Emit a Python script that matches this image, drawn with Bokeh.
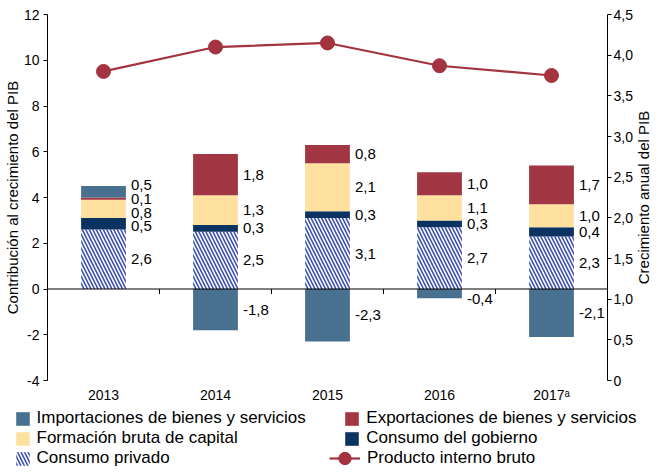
import numpy as np
from bokeh.plotting import figure
from bokeh.layouts import column, row
from bokeh.models import Range1d, LinearAxis, FixedTicker, Span, Legend, LegendItem
from bokeh.core.properties import value
from bokeh.embed import file_html
from bokeh.resources import INLINE

# ---- data ----
years = ["2013", "2014", "2015", "2016", "2017\u1d43"]
importaciones = [0.5, -1.8, -2.3, -0.4, -2.1]
exportaciones = [0.1, 1.8, 0.8, 1.0, 1.7]
formacion = [0.8, 1.3, 2.1, 1.1, 1.0]
gobierno = [0.5, 0.3, 0.3, 0.3, 0.4]
privado = [2.6, 2.5, 3.1, 2.7, 2.3]
pib = [3.8, 4.1, 4.15, 3.87, 3.75]

left_ticks = [-4, -2, 0, 2, 4, 6, 8, 10, 12]
left_tick_labels = ["-4", "-2", "0", "2", "4", "6", "8", "10", "12"]
right_ticks = [0, 0.5, 1.0, 1.5, 2.0, 2.5, 3.0, 3.5, 4.0, 4.5]
right_tick_labels = ["0", "0,5", "1,0", "1,5", "2,0", "2,5", "3,0", "3,5", "4,0", "4,5"]
left_title = "Contribución al crecimiento del PIB"
right_title = "Crecimiento anual del PIB"

FONT = "Liberation Sans"
C_IMP = "#47718f"
C_EXP = "#a23642"
C_FORM = "#fee19f"
C_GOB = "#0b3361"
C_HATCH = "#3b4fae"
C_PIB = "#a3333f"

n = len(years)
xc = np.arange(n) + 0.5
bw = 0.4

TOP_B = 14
BOT_B = 28
MAIN_H = TOP_B + 366 + BOT_B
TITLE_W = 15
LEG_H = 60

p = figure(width=650 - TITLE_W, height=MAIN_H, x_range=Range1d(0, n), y_range=Range1d(-4, 12),
           output_backend="svg", toolbar_location=None,
           min_border_left=44, min_border_right=24, min_border_top=TOP_B, min_border_bottom=BOT_B)
p.outline_line_color = None
p.xgrid.visible = False
p.ygrid.visible = False
p.background_fill_color = "white"
p.border_fill_color = "white"

# x axis (bottom): only labels
xa = p.xaxis[0]
xa.ticker = FixedTicker(ticks=list(xc))
xa.major_label_overrides = {float(x): y for x, y in zip(xc, years)}
xa.axis_line_color = None
xa.major_tick_line_color = None
xa.minor_tick_line_color = None
xa.major_label_standoff = 0
xa.major_label_text_font = FONT
xa.major_label_text_font_size = "14px"
xa.major_label_text_color = "black"

# left axis
ya = p.yaxis[0]
ya.ticker = FixedTicker(ticks=left_ticks)
ya.major_label_overrides = {t: l for t, l in zip(left_ticks, left_tick_labels)}
ya.minor_tick_line_color = None
ya.major_tick_in = 0
ya.major_tick_out = 4
ya.major_label_standoff = 4
ya.axis_line_color = "black"
ya.major_tick_line_color = "black"
ya.major_label_text_font = FONT
ya.major_label_text_font_size = "14px"
ya.major_label_text_color = "black"
ya.axis_label = left_title
ya.axis_label_text_font = FONT
ya.axis_label_text_font_size = "15px"
ya.axis_label_text_font_style = "normal"
ya.axis_label_text_color = "black"
ya.axis_label_standoff = 0

# right axis
p.extra_y_ranges = {"pib": Range1d(0, 4.5)}
ra = LinearAxis(y_range_name="pib")
ra.ticker = FixedTicker(ticks=right_ticks)
ra.major_label_overrides = {t: l for t, l in zip(right_ticks, right_tick_labels)}
ra.minor_tick_line_color = None
ra.major_tick_in = 0
ra.major_tick_out = 4
ra.major_label_standoff = 2
ra.axis_label_standoff = 0
ra.axis_line_color = "black"
ra.major_tick_line_color = "black"
ra.major_label_text_font = FONT
ra.major_label_text_font_size = "14px"
ra.major_label_text_color = "black"
p.add_layout(ra, "right")

# stacked bars
styles = {
    "Consumo privado": dict(fill_color="white", hatch_pattern="\\", hatch_color=C_HATCH,
                            hatch_weight=1.6, hatch_scale=7),
    "Consumo del gobierno": dict(fill_color=C_GOB),
    "Formación bruta de capital": dict(fill_color=C_FORM),
    "Exportaciones de bienes y servicios": dict(fill_color=C_EXP),
    "Importaciones de bienes y servicios": dict(fill_color=C_IMP),
}
series = [
    ("Consumo privado", privado),
    ("Consumo del gobierno", gobierno),
    ("Formación bruta de capital", formacion),
    ("Exportaciones de bienes y servicios", exportaciones),
    ("Importaciones de bienes y servicios", importaciones),
]

pos_base = np.zeros(n)
neg_base = np.zeros(n)
pos_labels = [[] for _ in range(n)]
neg_labels = [[] for _ in range(n)]
stacks = {}
for name, vals in series:
    vals = np.array(vals, dtype=float)
    bottom = np.where(vals >= 0, pos_base, neg_base + vals)
    top = np.where(vals >= 0, pos_base + vals, neg_base)
    stacks[name] = (bottom, top)
    p.vbar(x=xc, width=bw, bottom=bottom, top=top, line_color=None, **styles[name])
    for i, v in enumerate(vals):
        txt = f"{v:.1f}".replace(".", ",")
        mid = (bottom[i] + top[i]) / 2
        if v >= 0:
            pos_labels[i].append((mid, txt))
        else:
            neg_labels[i].append((mid, txt))
    pos_base = np.where(vals >= 0, pos_base + vals, pos_base)
    neg_base = np.where(vals < 0, neg_base + vals, neg_base)

GAP = 0.6


def spread(ys, gap):
    clusters = [[y] for y in ys]

    def place(c):
        m = sum(c) / len(c)
        return [m + gap * (k - (len(c) - 1) / 2) for k in range(len(c))]

    merged = True
    while merged:
        merged = False
        for i in range(len(clusters) - 1):
            a, b = place(clusters[i]), place(clusters[i + 1])
            if b[0] - a[-1] < gap - 1e-9:
                clusters[i] = clusters[i] + clusters[i + 1]
                del clusters[i + 1]
                merged = True
                break
    out = []
    for c in clusters:
        out += place(c)
    return out


lx, ly, lt = [], [], []
for i in range(n):
    ys = spread([m for m, _ in pos_labels[i]], GAP)
    for y, (_, t) in zip(ys, pos_labels[i]):
        lx.append(xc[i] + bw / 2); ly.append(y); lt.append(t)
    for m, t in neg_labels[i]:
        lx.append(xc[i] + bw / 2); ly.append(min(m, -0.75 * GAP)); lt.append(t)

p.text(x=lx, y=ly, text=lt, x_offset=5, text_align="left", text_baseline="middle",
       text_font=value(FONT), text_font_size="15px", text_color="black")

# zero line and category separators
p.add_layout(Span(location=0, dimension="width", line_color="black", line_width=1))
boundaries = np.arange(1, n)
p.ray(x=boundaries, y=np.zeros(len(boundaries)), length=5, length_units="screen",
      angle=-np.pi / 2, line_color="black", line_width=1)

# GDP line
p.line(x=xc, y=pib, y_range_name="pib", line_color=C_PIB, line_width=2.2)
p.scatter(x=xc, y=pib, y_range_name="pib", size=14, fill_color=C_PIB, line_color=C_PIB)

# ---- right axis title (reads bottom-to-top) ----
t = figure(width=TITLE_W, height=MAIN_H, x_range=Range1d(0, 1), y_range=Range1d(0, 1),
           x_axis_location=None, y_axis_location=None, min_border=0,
           min_border_top=TOP_B, min_border_bottom=BOT_B,
           output_backend="svg", toolbar_location=None)
t.outline_line_color = None
t.grid.visible = False
t.background_fill_color = "white"
t.border_fill_color = "white"
t.text(x=[0.5], y=[0.5], text=[right_title], angle=np.pi / 2, text_align="center",
       text_baseline="middle", text_font=value(FONT), text_font_size="15px", text_color="black")

# ---- legend strip ----
q = figure(width=650, height=LEG_H, x_range=Range1d(-100, -99), y_range=Range1d(-100, -99),
           x_axis_location=None, y_axis_location=None, min_border=0,
           output_backend="svg", toolbar_location=None)
q.outline_line_color = None
q.grid.visible = False
q.background_fill_color = "white"
q.border_fill_color = "white"

# legend proxies (same data, outside the visible ranges of this strip)
proxy = {name: q.vbar(x=xc, width=bw, bottom=stacks[name][0], top=stacks[name][1],
                      line_color=None, **styles[name]) for name in styles}
pl = q.line(x=xc, y=pib, line_color=C_PIB, line_width=2.2)
ps = q.scatter(x=xc, y=pib, size=14, fill_color=C_PIB, line_color=C_PIB)


def mk_legend(items, loc, gw, gh, lh, spacing, standoff):
    lg = Legend(items=items, location=loc, glyph_width=gw, glyph_height=gh,
                label_height=lh, spacing=spacing, padding=0, margin=0,
                border_line_color=None, background_fill_alpha=0,
                label_text_font=FONT, label_text_font_size="17px",
                label_text_color="black", label_standoff=standoff)
    q.add_layout(lg, "center")
    return lg


mk_legend([LegendItem(label=k, renderers=[proxy[k]]) for k in
           ["Importaciones de bienes y servicios", "Formación bruta de capital", "Consumo privado"]],
          (13.5, 0), 17, 17, 20, 0, 6)
mk_legend([LegendItem(label=k, renderers=[proxy[k]]) for k in
           ["Exportaciones de bienes y servicios", "Consumo del gobierno"]],
          (343.3, 20), 17, 17, 20, 0, 6)
mk_legend([LegendItem(label="Producto interno bruto", renderers=[pl, ps])],
          (329, -6), 31, 32, 20, 0, 7)

layout = column(row(p, t), q)
open("out.html", "w").write(file_html(layout, INLINE))
